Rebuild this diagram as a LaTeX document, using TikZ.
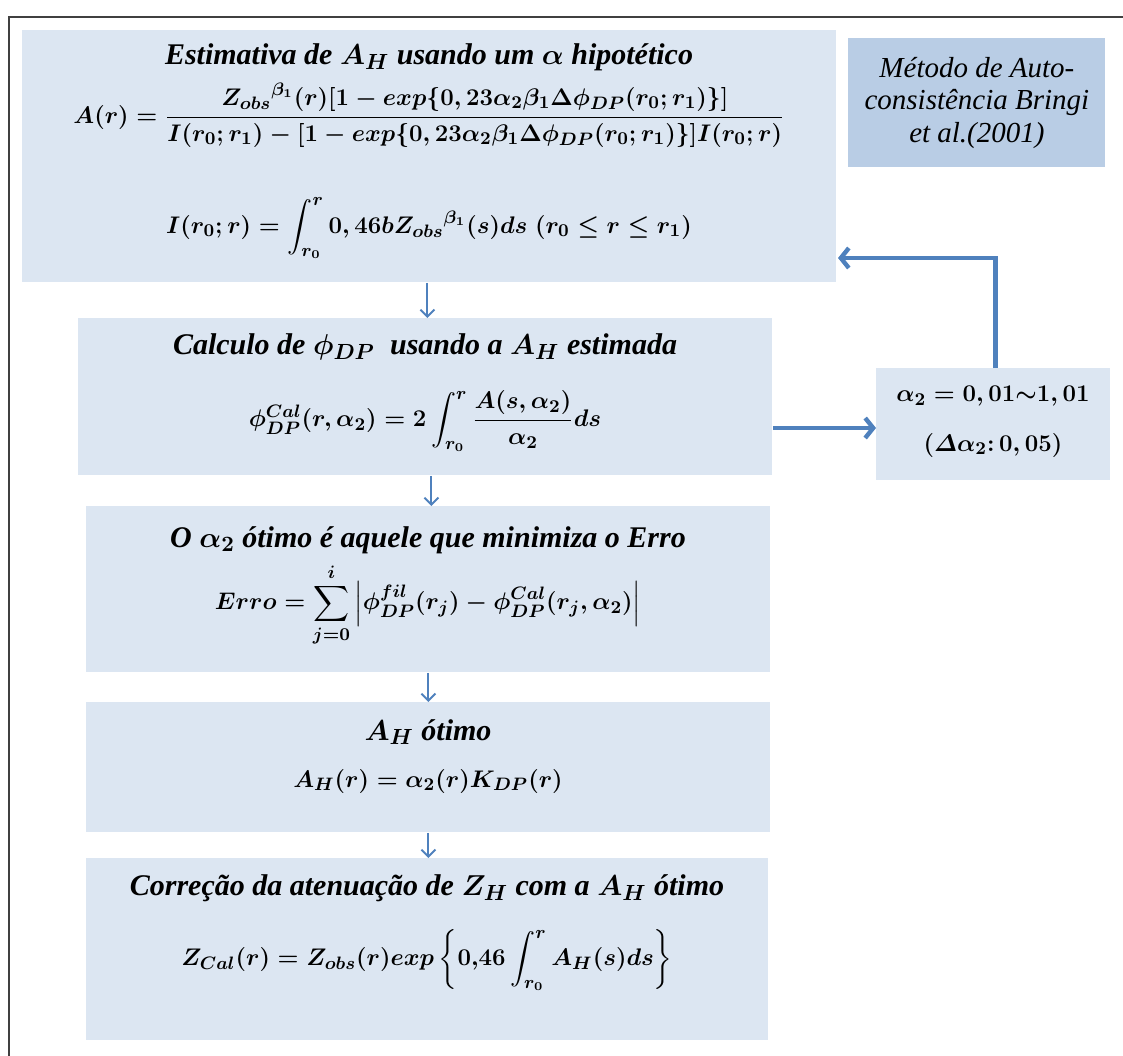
\documentclass[tikz,border=0pt]{standalone}
\usepackage{amsmath,amssymb}
\usepackage{fontspec}
\setmainfont{Liberation Serif}
\usepackage{xcolor}
\usepackage{tikz}
\usetikzlibrary{arrows.meta,positioning,calc}
\definecolor{boxBlue}{HTML}{DCE6F2}
\definecolor{tagBlue}{HTML}{B9CDE5}
\definecolor{arrBlue}{HTML}{4F81BD}
\definecolor{frameGray}{HTML}{404040}
\tikzset{
  stepbox/.style={fill=boxBlue,inner sep=0pt,anchor=north west},
  tagbox/.style={fill=tagBlue,inner sep=0pt,anchor=north west,align=center,
    font=\fontsize{14.5}{16.3}\selectfont\itshape},
  ttl/.style={inner sep=0pt,font=\fontsize{15}{17}\selectfont\bfseries\itshape\boldmath},
  eqn/.style={inner sep=0pt,font=\fontsize{12.5}{15}\selectfont\boldmath},
  smallarr/.style={draw=arrBlue,line width=1pt,-{Straight Barb[length=3.5pt,width=7pt]}},
  bigarr/.style={draw=arrBlue,line width=2.2pt,-{Straight Barb[length=4pt,width=10pt]}}
}
\begin{document}
\begin{tikzpicture}[x=0.5pt,y=-0.5pt]
\clip (0,0) rectangle (1123,1055);
\draw[frameGray,line width=0.8pt] (9,1080) |- (1140,17);
% boxes
\node[stepbox,minimum width=407pt,minimum height=126pt] (b1) at (22,30) {};
\node[tagbox,minimum width=128.5pt,minimum height=64.5pt] (mb) at (848,38)
  {Método de Auto-\\consistência Bringi\\et al.(2001)};
\node[stepbox,minimum width=347pt,minimum height=78.5pt] (b2) at (78,318) {};
\node[stepbox,minimum width=117pt,minimum height=56pt] (ab) at (876,368) {};
\node[stepbox,minimum width=342pt,minimum height=83pt] (b3) at (86,506) {};
\node[stepbox,minimum width=342pt,minimum height=65pt] (b4) at (86,702) {};
\node[stepbox,minimum width=341pt,minimum height=91pt] (b5) at (86,858) {};
% texts
\node[ttl] (t1) at (429,57) {Estimativa de $A_H$ usando um $\alpha$ hipotético};
\node[eqn] (e1) at (429,115) {$A(r)=\dfrac{{Z_{obs}}^{\beta_1}(r)[1-exp\{0,23\alpha_2\beta_1\Delta\phi_{DP}(r_0;r_1)\}]}{I(r_0;r_1)-[1-exp\{0,23\alpha_2\beta_1\Delta\phi_{DP}(r_0;r_1)\}]I(r_0;r)}$};
\node[eqn] (e2) at (429,228) {$I(r_0;r)=\displaystyle\int_{r_0}^{r}0,46b{Z_{obs}}^{\beta_1}(s)ds\;(r_0\le r\le r_1)$};
\node[ttl] (t2) at (425,347) {Calculo de $\phi_{DP}$\ \ usando a $A_H$ estimada};
\node[eqn] (e3) at (425,421) {$\phi_{DP}^{Cal}(r,\alpha_2)=2\displaystyle\int_{r_0}^{r}\frac{A(s,\alpha_2)}{\alpha_2}ds$};
\node[eqn] (a1) at (993,396) {$\alpha_2=0,01{\sim}1,01$};
\node[eqn] (a2) at (993,445) {$(\varDelta\alpha_2{:}\,0,05)$};
\node[ttl] (t3) at (428,540) {O $\alpha_2$ ótimo é aquele que minimiza o Erro};
\node[eqn] (e4) at (428,605) {$Erro=\displaystyle\sum_{j=0}^{i}\left|\phi_{DP}^{fil}(r_j)-\phi_{DP}^{Cal}(r_j,\alpha_2)\right|$};
\node[ttl] (t4) at (428,732) {$A_H$ ótimo};
\node[eqn] (e5) at (428,781) {$A_H(r)=\alpha_2(r)K_{DP}(r)$};
\node[ttl] (t5) at (427,888) {Correção da atenuação de $Z_H$ com a $A_H$ ótimo};
\node[eqn] (e6) at (427,960) {$Z_{Cal}(r)=Z_{obs}(r)exp\left\{0{,}46\displaystyle\int_{r_0}^{r}A_H(s)ds\right\}$};
% connectors
\coordinate (fb) at (838,258);
\draw[smallarr] ([xshift=-1pt]b1.south) -- ([xshift=-1pt]b1.south |- b2.north);
\draw[smallarr] ([xshift=3pt]b2.south) -- ([xshift=3pt]b2.south |- b3.north);
\draw[smallarr] (b3.south) -- (b3.south |- b4.north);
\draw[smallarr] (b4.south) -- (b4.south |- b5.north);
\draw[bigarr] (b2.east |- 0,428) -- (ab.west |- 0,428);
\draw[bigarr] ([xshift=1pt]ab.north) |- (fb);
\end{tikzpicture}
\end{document}
